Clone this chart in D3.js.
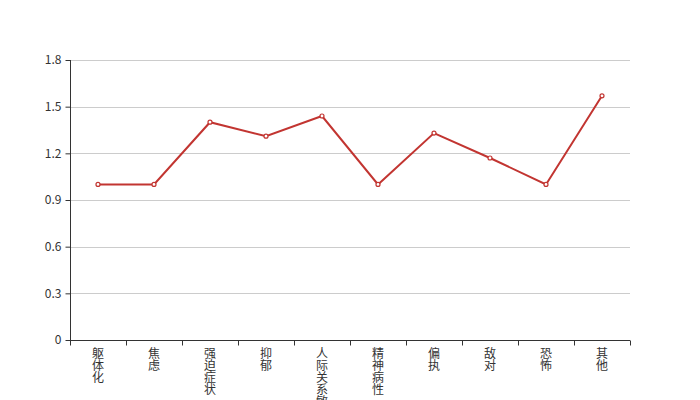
<!DOCTYPE html>
<html><head><meta charset="utf-8">
<script src="https://cdn.jsdelivr.net/npm/d3@7"></script>
<style>body{margin:0;background:#fff}</style>
</head><body><svg id="c" width="700" height="400"></svg>
<script>
const categories = ["躯体化","焦虑","强迫症状","抑郁","人际关系敏感","精神病性","偏执","敌对","恐怖","其他"];
const values = [1.0, 1.0, 1.4, 1.31, 1.44, 1.0, 1.33, 1.17, 1.0, 1.57];
const yTicks = [0, 0.3, 0.6, 0.9, 1.2, 1.5, 1.8];

(function(){
const svg = d3.select("#c");
const mL = 70, mR = 630, mT = 60, mB = 340;
const font = "'Noto Sans CJK SC', 'Microsoft YaHei', sans-serif";
const x = d3.scaleBand().domain(categories).range([mL, mR]);
const y = d3.scaleLinear().domain([0, 1.8]).range([mB, mT]);

// grid
svg.append("g").selectAll("line").data(yTicks.filter(d => d > 0)).join("line")
  .attr("x1", mL).attr("x2", mR)
  .attr("y1", d => Math.round(y(d)) + 0.5).attr("y2", d => Math.round(y(d)) + 0.5)
  .attr("stroke", "#ccc").attr("stroke-width", 1);

// y axis
const ya = svg.append("g").attr("transform", `translate(${mL + 0.5},0)`)
  .call(d3.axisLeft(y).tickValues(yTicks).tickSize(5).tickPadding(4).tickFormat(d => d === 0 ? "0" : d3.format(".1f")(d)));
ya.selectAll("path,line").attr("stroke", "#333");
ya.select(".domain").attr("d", `M0,${mT}V${mB}`);
ya.selectAll("text").attr("fill", "#333").style("font-size", "12px").style("font-family", font);

// x axis
const xa = svg.append("g").attr("transform", `translate(0,${mB + 0.5})`)
  .call(d3.axisBottom(x).tickSize(0).tickFormat(""));
xa.select(".domain").attr("stroke", "#333").attr("d", `M${mL},0H${mR}`);
const bounds = categories.map(c => x(c)).concat([mR]);
xa.selectAll(".tk").data(bounds).join("line").attr("class", "tk")
  .attr("x1", d => Math.round(d) + 0.5).attr("x2", d => Math.round(d) + 0.5)
  .attr("y1", 0).attr("y2", 5).attr("stroke", "#333");
const labels = xa.selectAll(".lbl").data(categories).join("text").attr("class", "lbl")
  .attr("fill", "#333").style("font-size", "12px").style("font-family", font)
  .attr("text-anchor", "middle");
labels.each(function(c) {
  const t = d3.select(this);
  const cx = x(c) + x.bandwidth() / 2;
  Array.from(c).forEach((ch, i) => {
    t.append("tspan").attr("x", cx).attr("y", 17 + i * 12).text(ch);
  });
});

// line
const line = d3.line().x((d, i) => x(categories[i]) + x.bandwidth() / 2).y(d => y(d));
svg.append("path").datum(values).attr("d", line)
  .attr("fill", "none").attr("stroke", "#c23531").attr("stroke-width", 2);
svg.append("g").selectAll("circle").data(values).join("circle")
  .attr("cx", (d, i) => x(categories[i]) + x.bandwidth() / 2).attr("cy", d => y(d))
  .attr("r", 2).attr("fill", "#fff").attr("stroke", "#c23531").attr("stroke-width", 1.2);
})();
</script></body></html>
